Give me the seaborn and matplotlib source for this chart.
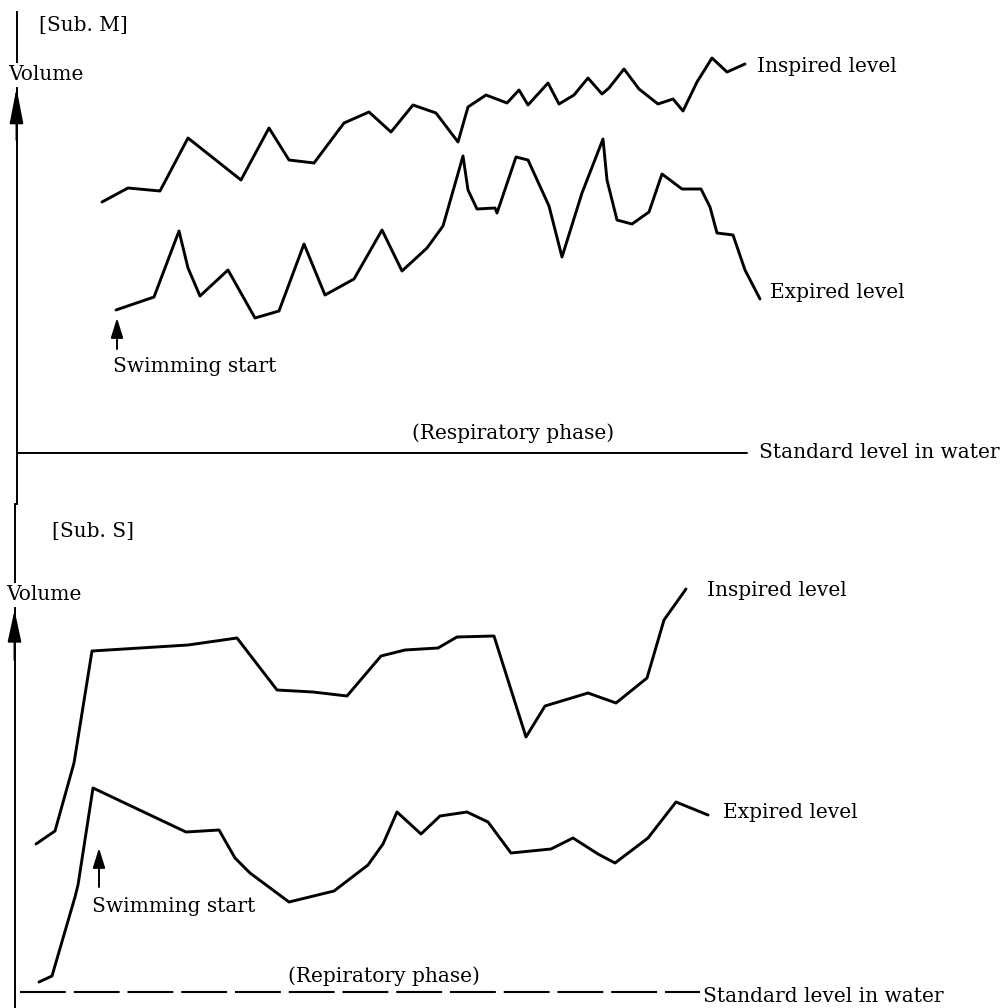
import matplotlib
matplotlib.use("Agg")
import matplotlib.pyplot as plt
import seaborn as sns
import pandas as pd

# ---------------- data (time in arbitrary units, volume above standard level) -------------
# Sub. M
m_insp_t = [102, 128, 160, 188, 241, 269, 289, 314, 344, 369, 391, 413, 436, 458, 468,
            486, 507, 519, 528, 548, 559, 574, 588, 602, 609, 624, 639, 658, 673, 683,
            697, 712, 727, 745]
m_insp_v = [251, 265, 262, 315, 273, 325, 293, 290, 330, 341, 321, 348, 340, 311, 346,
            358, 350, 363, 348, 370, 349, 358, 375, 359, 365, 384, 364, 349, 354, 342,
            371, 395, 381, 389]
m_exp_t = [116, 154, 179, 188, 200, 228, 255, 279, 304, 325, 354, 382, 402, 427, 443,
           463, 468, 477, 495, 497, 516, 528, 549, 562, 582, 603, 607, 617, 632, 649,
           662, 682, 701, 710, 717, 733, 745, 760]
m_exp_v = [143, 156, 222, 185, 157, 183, 135, 142, 209, 158, 174, 223, 182, 205, 227,
           297, 263, 244, 245, 240, 296, 293, 247, 196, 260, 314, 273, 233, 229, 241,
           279, 264, 264, 246, 220, 218, 183, 154]

# Sub. S
s_insp_t = [36, 55, 74, 92, 188, 237, 277, 313, 347, 381, 405, 438, 457, 494, 526,
            545, 588, 616, 647, 664, 686]
s_insp_v = [148, 161, 229, 341, 347, 354, 302, 300, 296, 336, 342, 344, 355, 356, 255,
            286, 299, 289, 314, 372, 403]
s_exp_t = [39, 52, 75, 78, 93, 186, 219, 235, 250, 289, 334, 368, 383, 397, 421, 440,
           467, 488, 511, 551, 573, 598, 615, 648, 676, 708]
s_exp_v = [10, 16, 95, 107, 204, 160, 162, 134, 119, 90, 101, 127, 148, 180, 158, 176,
           180, 170, 139, 143, 154, 138, 129, 154, 190, 177]

start_m = 117      # swimming start (Sub. M)
start_s = 99       # swimming start (Sub. S)
base_m_t = [17, 747]
base_s_t = [20, 700]
base_v = [0, 0]

# ---------------- style -------------
sns.set_theme(style="white")
plt.rcParams["font.family"] = ["DejaVu Serif"]
plt.rcParams["text.color"] = "black"
FS = 14.5
LW = 2.1
ALW = 1.4

fig = plt.figure(figsize=(10.05, 10.08), dpi=100)
fig.patch.set_facecolor("white")
ax1 = fig.add_axes([0, 0.5, 1, 0.5])
ax2 = fig.add_axes([0, 0.0, 1, 0.5])

def setup(ax, ylim, spine_x, bounds):
    ax.set_xlim(0, 1005)
    ax.set_ylim(*ylim)
    ax.set_facecolor("none")
    for s in ["top", "right", "bottom"]:
        ax.spines[s].set_visible(False)
    sp = ax.spines["left"]
    sp.set_position(("data", spine_x))
    sp.set_bounds(*bounds)
    sp.set_color("black")
    sp.set_linewidth(ALW)
    ax.set_xticks([])
    ax.set_yticks([])
    ax.set_xlabel("")
    ax.set_ylabel("")

def draw(ax, t, v):
    sns.lineplot(x=t, y=v, ax=ax, color="black", linewidth=LW, estimator=None,
                 sort=False, legend=False)

TXT = dict(fontsize=FS, color="black")

# ---------- top panel (Sub. M) ----------
draw(ax1, m_insp_t, m_insp_v)
draw(ax1, m_exp_t, m_exp_v)
ax1.plot(base_m_t, base_v, color="black", lw=ALW)
setup(ax1, (-51, 453), 16.5, (-51, 441))

ax1.text(39, 453 - 26, "[Sub. M]", va="center", ha="left", **TXT)
ax1.text(46, 453 - 75, "Volume", va="center", ha="center", zorder=5,
         bbox=dict(facecolor="white", edgecolor="none", pad=2), **TXT)
ax1.annotate("", xy=(16.5, 453 - 88), xytext=(16.5, 453 - 140),
             arrowprops=dict(arrowstyle="-|>,head_length=1.45,head_width=0.28",
                             mutation_scale=15, color="black", lw=ALW,
                             shrinkA=0, shrinkB=0))
ax1.text(757, 453 - 66, "Inspired level", va="center", ha="left", **TXT)
ax1.text(770, 453 - 293, "Expired level", va="center", ha="left", **TXT)
ax1.text(113, 453 - 366, "Swimming start", va="center", ha="left", **TXT)
ax1.annotate("", xy=(start_m, 453 - 318), xytext=(start_m, 453 - 349),
             arrowprops=dict(arrowstyle="-|>,head_length=0.8,head_width=0.25",
                             mutation_scale=15, color="black", lw=ALW,
                             shrinkA=0, shrinkB=0))
ax1.text(513, 453 - 433, "(Respiratory phase)", va="center", ha="center", **TXT)
ax1.text(759, 453 - 452, "Standard level in water", va="center", ha="left", **TXT)

# ---------- bottom panel (Sub. S) ----------
draw(ax2, s_insp_t, s_insp_v)
draw(ax2, s_exp_t, s_exp_v)
ax2.plot(base_s_t, base_v, color="black", lw=1.5, linestyle=(0, (22, 3.8)))
setup(ax2, (-16, 488), 14.5, (-16, 488))

ax2.text(52, 992 - 532, "[Sub. S]", va="center", ha="left", **TXT)
ax2.text(44, 992 - 595, "Volume", va="center", ha="center", zorder=5,
         bbox=dict(facecolor="white", edgecolor="none", pad=2), **TXT)
ax2.annotate("", xy=(14.5, 992 - 610), xytext=(14.5, 992 - 660),
             arrowprops=dict(arrowstyle="-|>,head_length=1.3,head_width=0.28",
                             mutation_scale=15, color="black", lw=ALW,
                             shrinkA=0, shrinkB=0))
ax2.text(707, 992 - 590, "Inspired level", va="center", ha="left", **TXT)
ax2.text(723, 992 - 813, "Expired level", va="center", ha="left", **TXT)
ax2.text(92, 992 - 906, "Swimming start", va="center", ha="left", **TXT)
ax2.annotate("", xy=(start_s, 992 - 848), xytext=(start_s, 992 - 887),
             arrowprops=dict(arrowstyle="-|>,head_length=0.8,head_width=0.25",
                             mutation_scale=15, color="black", lw=ALW,
                             shrinkA=0, shrinkB=0))
ax2.text(384, 992 - 976, "(Repiratory phase)", va="center", ha="center", **TXT)
ax2.text(703, 992 - 996, "Standard level in water", va="center", ha="left", **TXT)

fig.savefig("out.png", dpi=100, facecolor="white")
